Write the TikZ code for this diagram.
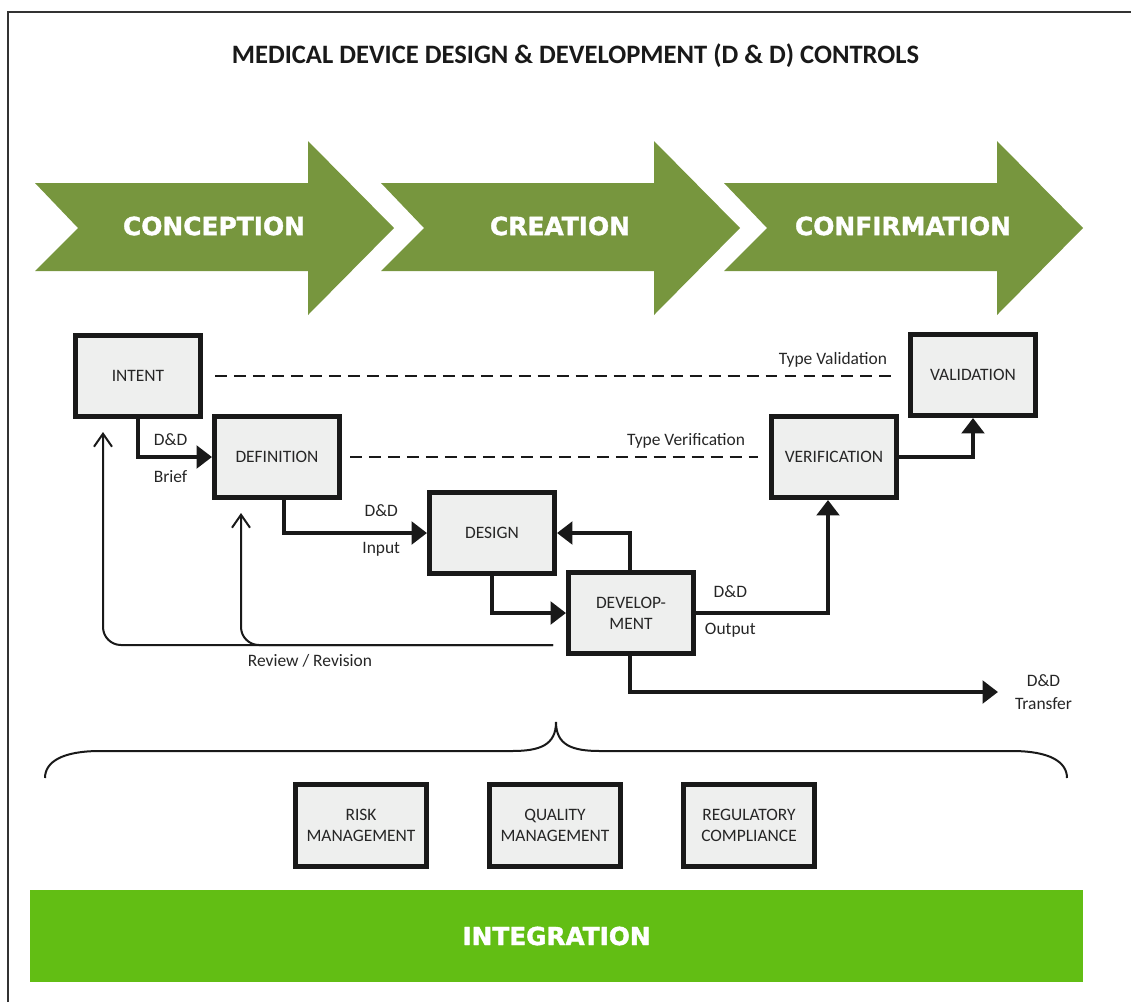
\documentclass[tikz,border=0pt]{standalone}
\usepackage{fontspec}
\setmainfont{Carlito}
\newfontfamily\phasefont{DejaVu Sans}[BoldFeatures={FakeBold=1.6}]
\usepackage{tikz}
\usetikzlibrary{arrows.meta, positioning}
\definecolor{phasegreen}{HTML}{77963E}
\definecolor{integgreen}{HTML}{62BE14}
\definecolor{boxgray}{HTML}{EEEFEE}
\newlength{\pxu}
\setlength{\pxu}{0.025cm}

\begin{document}
\begin{tikzpicture}[
        x=\pxu, y=-\pxu,
        box/.style={rectangle, draw=black!90, fill=boxgray, line width=5\pxu, minimum width=125\pxu, minimum height=81\pxu, inner sep=0pt, align=center, text=black!85, font=\fontsize{12.4}{15}\selectfont},
        sidebox/.style={box, minimum width=131\pxu, minimum height=82\pxu},
        lab/.style={inner sep=0pt, align=center, text=black!85, font=\fontsize{12.4}{16.4}\selectfont},
        flow/.style={-{Triangle[length=11pt, width=16pt]}, line width=4\pxu, black!90},
        review/.style={-{Straight Barb[length=9.2pt, width=12.8pt]}, line width=2\pxu, rounded corners=18\pxu, black!90},
        typeline/.style={line width=2\pxu, dash pattern=on 8.5pt off 5pt, black!90},
        brace/.style={line width=2\pxu, black!90},
        phase/.style={fill=phasegreen},
        phasetext/.style={text=white, font=\phasefont\bfseries\fontsize{17.7}{20}\selectfont},
        integration/.style={rectangle, fill=integgreen, minimum width=1053\pxu, minimum height=92\pxu, text=white, font=\phasefont\bfseries\fontsize{17.6}{20}\selectfont},
        title/.style={font=\bfseries\fontsize{18.9}{22}\selectfont, text=black!90}
    ]
        \useasboundingbox (0,0) rectangle (1131,1002);
        \draw[line width=2\pxu, black!80] (8,1002) -- (8,12) -- (1131,12);

        % Title
        \node[title, anchor=base] (title) at (575.5,63) {MEDICAL DEVICE DESIGN \& DEVELOPMENT (D \& D) CONTROLS};

        % Phases
        \foreach \dx/\name in {0/CONCEPTION, 346/CREATION, 689/CONFIRMATION}{
            \fill[phase] (35+\dx,183) -- (308+\dx,183) -- (308+\dx,141) -- (394+\dx,228) -- (308+\dx,315) -- (308+\dx,271) -- (35+\dx,271) -- (78+\dx,228) -- cycle;
            \node[phasetext] (\name) at (214+\dx,226) {\name};
        }

        % Boxes
        \node[box] (intent) at (138,376) {INTENT};
        \node[box, below right=-5\pxu and 9\pxu of intent] (definition) {DEFINITION};
        \node[box, below right=-10\pxu and 85\pxu of definition] (design) {DESIGN};
        \node[box, below right=-6\pxu and 9\pxu of design] (development) {DEVELOP-\\MENT};
        \node[box, right=427\pxu of definition] (verification) {VERIFICATION};
        \node[box, above right=-4\pxu and 9\pxu of verification] (validation) {VALIDATION};
        \coordinate (transfer) at (998,692);
        \coordinate (rev) at (553,645);

        % Arrows
        \draw[flow] (intent.south) |- node[lab, pos=0.72, above=9\pxu] (brief1) {D\&D} node[lab, pos=0.72, below=11\pxu] (brief2) {Brief} (definition.west);
        \draw[flow] ([xshift=7\pxu]definition.south) |- node[lab, pos=0.84, above=14\pxu] (input1) {D\&D} node[lab, pos=0.84, below=7\pxu] (input2) {Input} (design.west);
        \draw[flow] (design.south) |- (development.west);
        \draw[flow] ([xshift=-1\pxu]development.north) |- (design.east);
        \draw[flow] (development.east) -| node[lab, pos=0.13, above=13\pxu] (output1) {D\&D} node[lab, pos=0.13, below=8\pxu] (output2) {Output} ([xshift=-6\pxu]verification.south);
        \draw[flow] (verification.east) -| (validation.south);
        \draw[flow] ([xshift=-1\pxu]development.south) |- (transfer) node[lab, right=15\pxu] (transferlab) {D\&D\\Transfer};

        % Type checks
        \draw[typeline] ([xshift=12\pxu]intent.east) -- ([xshift=-10\pxu]intent.east -| validation.west) node[lab, at end, anchor=south east, xshift=-10\pxu, yshift=8\pxu] (typeval) {Type Validation};
        \draw[typeline] ([xshift=8\pxu]definition.east) -- ([xshift=-11\pxu]verification.west) node[lab, at end, anchor=south east, xshift=-12\pxu, yshift=8\pxu] (typever) {Type Verification};

        % Review / Revision
        \draw[review] (rev) -| node[lab, pos=0.27, below=8\pxu] (revlab) {Review / Revision} ([xshift=30\pxu, yshift=-13\pxu]intent.south west);
        \draw[review] (rev) -| ([xshift=29\pxu, yshift=-13\pxu]definition.south west);

        % Brace
        \draw[brace] (45,778) .. controls (45,762) and (62,751) .. (100,751) -- (512,751) .. controls (540,751) and (556,745) .. (556,722) .. controls (556,745) and (572,751) .. (600,751) -- (1012,751) .. controls (1050,751) and (1067,762) .. (1067,778);

        % Integration
        \node[sidebox] (risk) at (361,825.5) {RISK\\MANAGEMENT};
        \node[sidebox, right=58\pxu of risk] (quality) {QUALITY\\MANAGEMENT};
        \node[sidebox, right=58\pxu of quality] (regulatory) {REGULATORY\\COMPLIANCE};
        \node[integration] (integ) at (556.5,936) {INTEGRATION};
    \end{tikzpicture}
\end{document}
